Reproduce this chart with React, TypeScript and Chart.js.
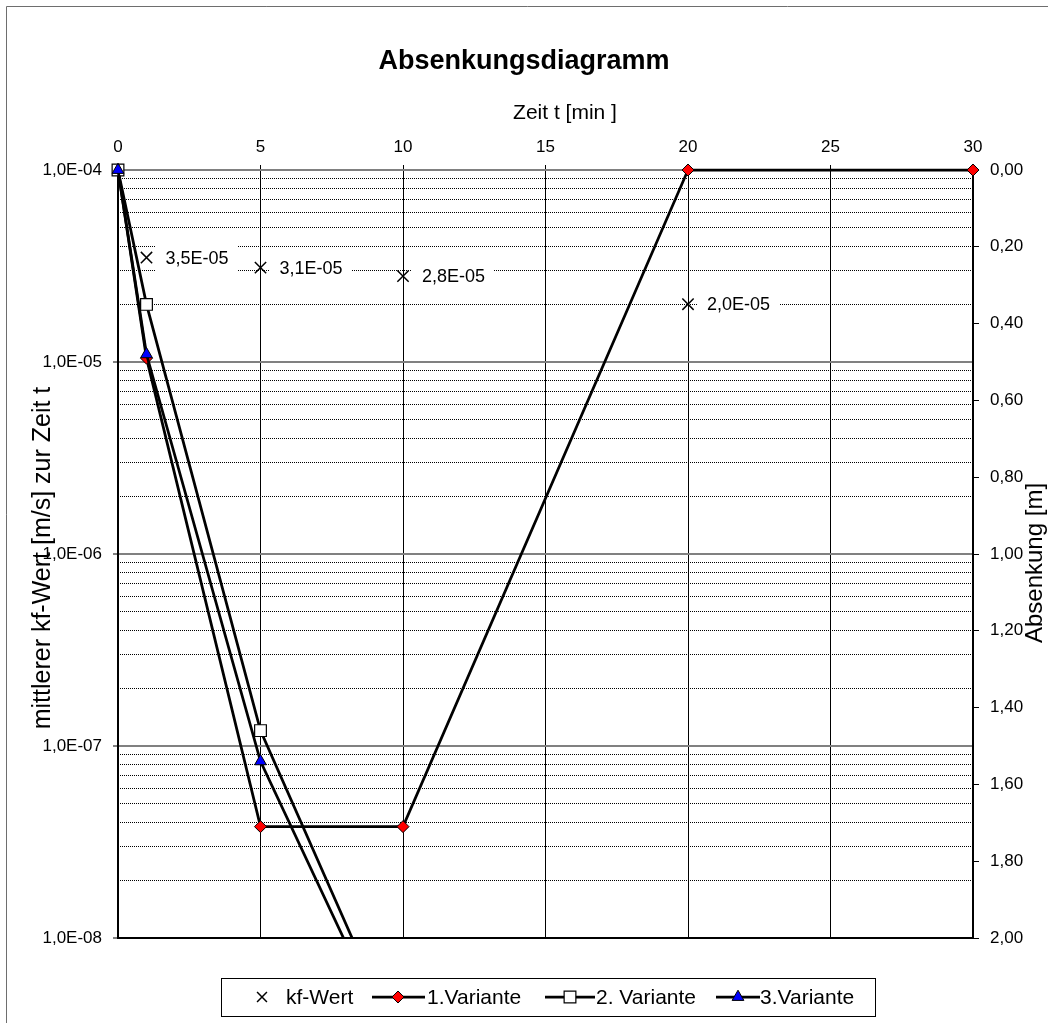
import { useEffect, useRef } from 'react';
import { Chart, registerables } from 'chart.js';
import { drawPoint } from 'chart.js/helpers';

Chart.register(...registerables);

const FONT = '"Liberation Sans", Arial, Helvetica, sans-serif';

// ---------- data ----------
const chartTitle = 'Absenkungsdiagramm';
const xTitle = 'Zeit t [min ]';
const yLeftTitle = 'mittlerer kf-Wert [m/s] zur Zeit t';
const yRightTitle = 'Absenkung [m]';

const seriesNames = ['kf-Wert', '1.Variante', '2. Variante', '3.Variante'];

const kfTime = [1, 5, 10, 20];
const kfValues = [3.5e-5, 3.1e-5, 2.8e-5, 2.0e-5];

const v1Time = [0, 1, 5, 10, 20, 30];
const v1Values = [0, 0.49, 1.71, 1.71, 0, 0];

const v2Time = [0, 1, 5, 10];
const v2Values = [0, 0.35, 1.46, 2.3];

const v3Time = [0, 1, 5, 10];
const v3Values = [0, 0.48, 1.54, 2.33];

const xMin = 0;
const xMax = 30;
const xStep = 5;

const kfDecades = [-8, -7, -6, -5, -4];
const kfMinorMultipliers = [1, 2, 3, 4, 5, 6, 7, 8, 9];

const absMin = 0;
const absMax = 2;
const absStep = 0.2;

// ---------- helpers ----------
const logTicks: number[] = [];
kfDecades.forEach((e, i) => {
  if (i === kfDecades.length - 1) {
    logTicks.push(Math.pow(10, e));
  } else {
    kfMinorMultipliers.forEach((m) => logTicks.push(m * Math.pow(10, e)));
  }
});

const isDecade = (v: number) => {
  const l = Math.log10(v);
  return Math.abs(l - Math.round(l)) < 1e-6;
};

const fmtSci = (v: number) => {
  const e = Math.floor(Math.log10(v) + 1e-9);
  const m = v / Math.pow(10, e);
  const sign = e < 0 ? '-' : '+';
  return `${m.toFixed(1).replace('.', ',')}E${sign}${String(Math.abs(e)).padStart(2, '0')}`;
};

const fmtDec = (v: number) => Number(v).toFixed(2).replace('.', ',');

const toPts = (xs: number[], ys: number[]) => xs.map((x, i) => ({ x, y: ys[i] }));

// ---------- layout (positions only) ----------
const legendBox = { left: 221, top: 978, width: 654, height: 38 };
const legendMarkerX = [262, 398, 570, 738];
const legendLineX: (number[] | null)[] = [null, [372, 425], [545, 595], [716, 760]];
const legendTextX = [286, 427, 596, 760];

export default function App() {
  const ref = useRef<HTMLCanvasElement>(null);

  useEffect(() => {
    const canvas = ref.current as HTMLCanvasElement;
    const ctx0 = canvas.getContext('2d') as CanvasRenderingContext2D;
    const pc = document.createElement('canvas');
    pc.width = 2;
    pc.height = 1;
    const pctx = pc.getContext('2d') as CanvasRenderingContext2D;
    pctx.fillStyle = '#000';
    pctx.fillRect(0, 0, 1, 1);
    const dotted = ctx0.createPattern(pc, 'repeat');

    const decor = {
      id: 'decor',
      beforeDraw(chart: any) {
        const { ctx, width, height } = chart;
        ctx.save();
        ctx.fillStyle = '#fff';
        ctx.fillRect(0, 0, width, height);
        ctx.strokeStyle = '#6e6e6e';
        ctx.lineWidth = 1;
        ctx.beginPath();
        ctx.moveTo(6.5, height);
        ctx.lineTo(6.5, 6.5);
        ctx.lineTo(width, 6.5);
        ctx.stroke();
        ctx.restore();
      },
      afterDatasetsDraw(chart: any) {
        const { ctx } = chart;
        const meta = chart.getDatasetMeta(0);
        ctx.save();
        ctx.font = `18px ${FONT}`;
        ctx.textBaseline = 'middle';
        ctx.textAlign = 'left';
        meta.data.forEach((pt: any, i: number) => {
          const txt = fmtSci(kfValues[i]);
          const w = ctx.measureText(txt).width;
          const bx = pt.x + 9;
          ctx.fillStyle = '#fff';
          ctx.fillRect(bx, pt.y - 14, w + 19, 28);
          ctx.fillStyle = '#000';
          ctx.fillText(txt, pt.x + 19, pt.y + 1);
        });
        ctx.restore();
      },
      afterDraw(chart: any) {
        const { ctx } = chart;
        ctx.save();
        ctx.fillStyle = '#000';
        // title
        ctx.font = `bold 27px ${FONT}`;
        ctx.textAlign = 'center';
        ctx.textBaseline = 'alphabetic';
        ctx.fillText(chartTitle, 524, 69);
        // x title
        ctx.font = `21px ${FONT}`;
        ctx.fillText(xTitle, 565, 119);
        // left title
        ctx.save();
        ctx.translate(50, 558);
        ctx.rotate(-Math.PI / 2);
        ctx.font = `25px ${FONT}`;
        ctx.fillText(yLeftTitle, 0, 0);
        ctx.restore();
        // right title
        ctx.save();
        ctx.translate(1042, 563);
        ctx.rotate(-Math.PI / 2);
        ctx.font = `24px ${FONT}`;
        ctx.fillText(yRightTitle, 0, 0);
        ctx.restore();

        // legend
        ctx.strokeStyle = '#000';
        ctx.lineWidth = 1;
        ctx.strokeRect(legendBox.left + 0.5, legendBox.top + 0.5, legendBox.width, legendBox.height);
        const cy = legendBox.top + legendBox.height / 2;
        chart.data.datasets.forEach((ds: any, i: number) => {
          const lx = legendLineX[i];
          if (lx) {
            ctx.strokeStyle = '#000';
            ctx.lineWidth = ds.borderWidth;
            ctx.beginPath();
            ctx.moveTo(lx[0], cy);
            ctx.lineTo(lx[1], cy);
            ctx.stroke();
          }
          ctx.fillStyle = ds.pointBackgroundColor;
          ctx.strokeStyle = ds.pointBorderColor;
          ctx.lineWidth = ds.pointBorderWidth;
          drawPoint(ctx, {
            pointStyle: ds.pointStyle,
            radius: i === 0 ? 7 : ds.pointRadius,
            borderWidth: ds.pointBorderWidth,
            rotation: 0,
          } as any, legendMarkerX[i], cy);
          ctx.fillStyle = '#000';
          ctx.font = `21px ${FONT}`;
          ctx.textAlign = 'left';
          ctx.textBaseline = 'middle';
          ctx.fillText(seriesNames[i], legendTextX[i], cy + 1);
        });
        ctx.restore();
      },
    };

    const tickFont = { family: FONT, size: 17 };
    const edgeClip = { left: 15, top: 15, right: 15, bottom: 15 };
    const bottomClip = { left: 15, top: 15, right: 15, bottom: 0 };

    const chart = new Chart(canvas, {
      type: 'scatter',
      data: {
        datasets: [
          {
            label: seriesNames[0],
            data: toPts(kfTime, kfValues),
            yAxisID: 'y',
            showLine: false,
            pointStyle: 'crossRot',
            pointRadius: 8,
            pointBorderWidth: 1.5,
            pointBorderColor: '#000',
            pointBackgroundColor: '#000',
            clip: edgeClip,
            order: 3,
          },
          {
            label: seriesNames[1],
            data: toPts(v1Time, v1Values),
            yAxisID: 'y1',
            showLine: true,
            borderColor: '#000',
            borderWidth: 2.75,
            pointStyle: 'rectRot',
            pointRadius: 6,
            pointBackgroundColor: '#ff0000',
            pointBorderColor: '#000',
            pointBorderWidth: 1,
            clip: edgeClip,
            order: 2,
          },
          {
            label: seriesNames[2],
            data: toPts(v2Time, v2Values),
            yAxisID: 'y1',
            showLine: true,
            borderColor: '#000',
            borderWidth: 2.75,
            pointStyle: 'rect',
            pointRadius: 8.3,
            pointBackgroundColor: '#ffffff',
            pointBorderColor: '#000',
            pointBorderWidth: 1.2,
            clip: bottomClip,
            order: 1,
          },
          {
            label: seriesNames[3],
            data: toPts(v3Time, v3Values),
            yAxisID: 'y1',
            showLine: true,
            borderColor: '#000',
            borderWidth: 2.75,
            pointStyle: 'triangle',
            pointRadius: 6.8,
            pointBackgroundColor: '#0000ff',
            pointBorderColor: '#000',
            pointBorderWidth: 1,
            clip: bottomClip,
            order: 0,
          },
        ] as any,
      },
      options: {
        responsive: false,
        maintainAspectRatio: false,
        devicePixelRatio: 1,
        animation: false,
        events: [],
        layout: { padding: { left: 0, right: 0, top: 0, bottom: 85 } },
        plugins: {
          legend: { display: false },
          title: { display: false },
          tooltip: { enabled: false },
        },
        scales: {
          x: {
            type: 'linear',
            position: 'top',
            min: xMin,
            max: xMax,
            ticks: {
              stepSize: xStep,
              padding: 7,
              font: tickFont,
              color: '#000',
              autoSkip: false,
              maxRotation: 0,
            },
            grid: {
              color: '#000',
              lineWidth: 1,
              tickLength: 5,
              tickColor: '#000',
            },
            border: { display: false },
            afterFit: (s: any) => {
              s.height = 170;
            },
          },
          y: {
            type: 'logarithmic',
            position: 'left',
            min: 1e-8,
            max: 1e-4,
            afterBuildTicks: (s: any) => {
              s.ticks = logTicks.map((v) => ({ value: v }));
            },
            ticks: {
              callback: (v: any) => (isDecade(Number(v)) ? fmtSci(Number(v)) : ''),
              autoSkip: false,
              padding: 11,
              font: tickFont,
              color: '#000',
            },
            grid: {
              color: (c: any) => {
                const v = c.tick ? c.tick.value : 1;
                if (isDecade(v)) return v < 1.5e-8 ? '#000' : '#808080';
                return dotted as any;
              },
              lineWidth: (c: any) => (c.tick && isDecade(c.tick.value) ? 2 : 1),
              tickColor: (c: any) => (c.tick && isDecade(c.tick.value) ? '#000' : 'rgba(0,0,0,0)'),
              tickWidth: 1,
              tickLength: 5,
            },
            border: { display: true, color: '#000', width: 2 },
            afterFit: (s: any) => {
              s.width = 118;
            },
          },
          y1: {
            type: 'linear',
            position: 'right',
            min: absMin,
            max: absMax,
            reverse: true,
            ticks: {
              stepSize: absStep,
              callback: (v: any) => fmtDec(v),
              padding: 11,
              font: tickFont,
              color: '#000',
              autoSkip: false,
            },
            grid: {
              drawOnChartArea: false,
              tickLength: 6,
              color: '#000',
              lineWidth: 1,
            },
            border: { display: true, color: '#000', width: 2 },
            afterFit: (s: any) => {
              s.width = 75;
            },
          },
        },
      } as any,
      plugins: [decor],
    });

    return () => chart.destroy();
  }, []);

  return (
    <div style={{ position: 'absolute', left: 0, top: 0, width: 1048, height: 1023, background: '#fff' }}>
      <canvas ref={ref} width={1048} height={1023} style={{ display: 'block', width: 1048, height: 1023 }} />
    </div>
  );
}
